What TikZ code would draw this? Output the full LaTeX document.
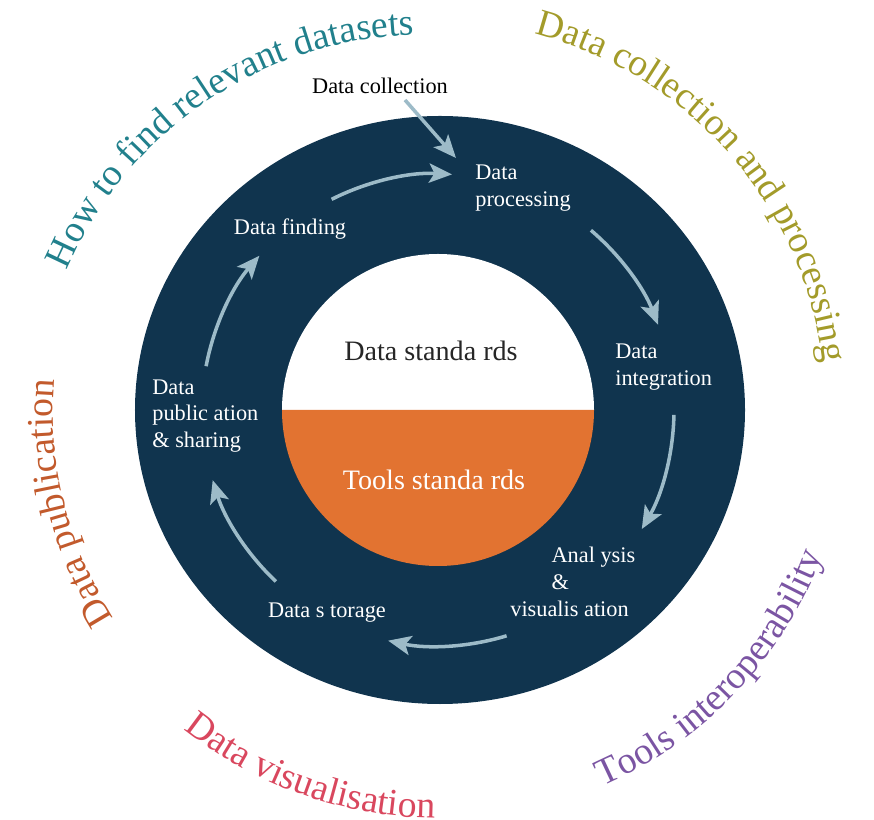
\documentclass[tikz,border=0pt]{standalone}
\usepackage{fontspec}
\setmainfont{Liberation Serif}
\usepackage{xcolor}
\usepackage{tikz}
\usetikzlibrary{
    arrows.meta,
    calc,
    decorations.text
}
\definecolor{ringnavy}{HTML}{10344E}
\definecolor{toolorange}{HTML}{E27331}
\definecolor{arrowblue}{HTML}{9DBBC8}
\definecolor{findteal}{HTML}{21808C}
\definecolor{collectolive}{HTML}{A39B2A}
\definecolor{interpurple}{HTML}{7B55A3}
\definecolor{vispink}{HTML}{D9475E}
\definecolor{pubrust}{HTML}{C25A2C}
\newcommand{\ringfont}{\fontsize{21.5}{24}\selectfont}
\tikzstyle{steplabel}=[
    text=white,
    align=left,
    font=\fontsize{12.7}{15.3}\selectfont,
    inner sep=0pt
]
\tikzstyle{cycarrow}=[line width=2pt,-{Stealth[length=13pt,width=11pt,inset=3pt]},draw=arrowblue]

\begin{document}
\begin{tikzpicture}[
    x=0.02cm,y=0.02cm,
    hub/.style={font=\fontsize{16}{19}\selectfont,inner sep=0pt},
    ringtext/.style={decorate,decoration={text along path,text align=center,text color=#1}}
]
\useasboundingbox (-438,-410) rectangle (436,410);
% ring and the two halves in the middle
\fill[ringnavy] (2,0) ellipse [x radius=305,y radius=294];
\fill[white] (-156,0) arc (180:0:156) -- cycle;
\fill[toolorange] (156,0) arc (0:-180:156) -- cycle;
\node[hub,text=black!85] (datastd) at (-7,59) {Data standa rds};
\node[hub,text=white] (toolsstd) at (-4,-70) {Tools standa rds};
% steps of the cycle
\node[steplabel,text=black] (collect) at (-58,324) {Data collection};
\node[steplabel,anchor=west] (process) at (37,222) {Data\\processing};
\node[steplabel,anchor=west] (integr) at (177,43) {Data\\integration};
\node[steplabel,anchor=west] (analysis) at (72,-172) {\hspace*{1.85em}Anal ysis\\\hspace*{1.85em}\&\\visualis ation};
\node[steplabel] (storage) at (-111,-203) {Data s torage};
\node[steplabel,anchor=west] (publish) at (-286,-6) {Data\\public ation\\\& sharing};
\node[steplabel] (finding) at (-148,181) {Data finding};
\coordinate (collecttail) at (-33,310);
\coordinate (collecthead) at (18,252);
\draw[cycarrow] (collecttail) -- (collecthead);
\foreach \a/\b [count=\i] in {116.8/86.6,49.6/21.2,-1.2/-30.3,-73.1/-102.2,226.6/197.3,169.3/139.2}{
    \coordinate (arr\i) at (\a:236);
    \draw[cycarrow] (arr\i) arc (\a:\b:236);
}
% themes round the outside
\path[ringtext=findteal,decoration={text={|\ringfont|How to find relevant datasets}}]
    ($(-13,-15)+(169.1:390)$) arc (169.1:79.1:390);
\path[ringtext=collectolive,decoration={text={|\ringfont|Data collection and processing}}]
    (86.3:388) arc (86.3:-3.7:388);
\path[ringtext=interpurple,decoration={text={|\ringfont|Tools interoperability}}]
    (-88.5:411) arc (-88.5:1.5:411);
\path[ringtext=vispink,decoration={text={|\ringfont|Data visualisation}}]
    (205.5:408) arc (205.5:295.5:408);
\path[ringtext=pubrust,decoration={text={|\ringfont|Data publication}}]
    (239.1:385) arc (239.1:149.1:385);
\end{tikzpicture}
\end{document}
